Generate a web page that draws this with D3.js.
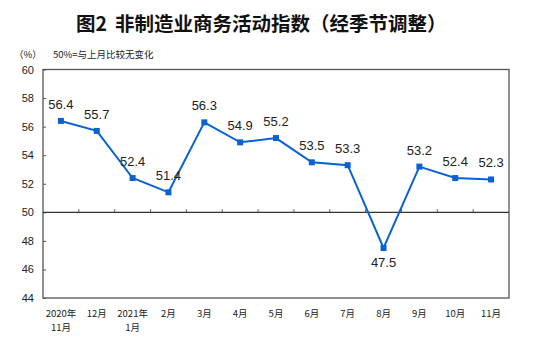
<!DOCTYPE html>
<html>
<head>
<meta charset="utf-8">
<script src="https://cdn.jsdelivr.net/npm/d3@7"></script>
<style>
  html, body { margin: 0; padding: 0; background: #fff; }
  svg { display: block; }
</style>
</head>
<body>
<svg id="chart" width="550" height="341"></svg>
<script>
// Non-manufacturing business activity index, seasonally adjusted
const months = ["2020年|11月", "12月", "2021年|1月", "2月", "3月", "4月", "5月", "6月", "7月", "8月", "9月", "10月", "11月"];
const values = [56.4, 55.7, 52.4, 51.4, 56.3, 54.9, 55.2, 53.5, 53.3, 47.5, 53.2, 52.4, 52.3];
const yTicks = [44, 46, 48, 50, 52, 54, 56, 58, 60];

const svg = d3.select("#chart");
const m = { left: 43, right: 509, top: 69.5, bottom: 298 };
const lineColor = "#0a62d0";
const cjk = "'Noto Sans CJK SC', 'Noto Sans', sans-serif";

const x = d3.scaleBand().domain(months).range([m.left, m.right]);
const y = d3.scaleLinear().domain([44, 60]).range([m.bottom, m.top]);

// Title
const title = svg.append("text")
  .attr("y", 31)
  .attr("font-family", cjk)
  .attr("font-size", 19.5)
  .attr("font-weight", "bold")
  .attr("fill", "#111");
title.append("tspan").attr("x", 76).text("图2");
title.append("tspan").attr("x", 115).text("非制造业商务活动指数（经季节调整）");

// Unit and note
svg.append("text")
  .attr("x", 14).attr("y", 58)
  .attr("font-family", cjk).attr("font-size", 9.5).attr("fill", "#222")
  .text("（%）");
svg.append("text")
  .attr("x", 53).attr("y", 58)
  .attr("font-family", cjk).attr("font-size", 9.5).attr("fill", "#222")
  .text("50%=与上月比较无变化");

// Frame
svg.append("rect")
  .attr("x", m.left).attr("y", m.top)
  .attr("width", m.right - m.left).attr("height", m.bottom - m.top)
  .attr("fill", "none").attr("stroke", "#555").attr("stroke-width", 1.3);

// Y axis with inward ticks
const yAxis = svg.append("g")
  .attr("transform", `translate(${m.left},0)`)
  .call(d3.axisLeft(y).tickValues(yTicks).tickSize(-3).tickPadding(9).tickFormat(d3.format("d")));
yAxis.select(".domain").remove();
yAxis.selectAll(".tick line").attr("stroke", "#555");
yAxis.selectAll(".tick text")
  .attr("font-family", "Arial, 'Liberation Sans', sans-serif")
  .attr("font-size", 11).attr("fill", "#222");

// Baseline at 50 with upward ticks at category boundaries
svg.append("line")
  .attr("x1", m.left).attr("x2", m.right)
  .attr("y1", y(50)).attr("y2", y(50))
  .attr("stroke", "#333").attr("stroke-width", 1.2);
const bounds = months.slice(1).map(d => x(d));
svg.append("g").selectAll("line").data(bounds).join("line")
  .attr("x1", d => d).attr("x2", d => d)
  .attr("y1", y(50)).attr("y2", y(50) - 3)
  .attr("stroke", "#555");

// X labels (two lines where needed)
const xl = svg.append("g");
months.forEach(mo => {
  const parts = mo.split("|");
  const t = xl.append("text")
    .attr("x", x(mo) + x.bandwidth() / 2)
    .attr("y", 317)
    .attr("text-anchor", "middle")
    .attr("font-family", cjk).attr("font-size", 9.5).attr("fill", "#222");
  parts.forEach((p, i) => {
    t.append("tspan")
      .attr("x", x(mo) + x.bandwidth() / 2)
      .attr("dy", i === 0 ? 0 : 14)
      .text(p);
  });
});

// Line
const cx = d => x(d) + x.bandwidth() / 2;
const pts = months.map((d, i) => [cx(d), y(values[i])]);
svg.append("path")
  .attr("d", d3.line()(pts))
  .attr("fill", "none").attr("stroke", lineColor).attr("stroke-width", 2);

// Square markers
svg.append("g").selectAll("rect").data(pts).join("rect")
  .attr("x", d => d[0] - 3).attr("y", d => d[1] - 3)
  .attr("width", 6).attr("height", 6)
  .attr("fill", lineColor);

// Value labels
svg.append("g").selectAll("text").data(values).join("text")
  .attr("x", (d, i) => cx(months[i]))
  .attr("y", d => d < 50 ? y(d) + 19 : y(d) - 12)
  .attr("text-anchor", "middle")
  .attr("font-family", "Arial, 'Liberation Sans', sans-serif")
  .attr("font-size", 13).attr("fill", "#222")
  .text(d => d.toFixed(1));
</script>
</body>
</html>
